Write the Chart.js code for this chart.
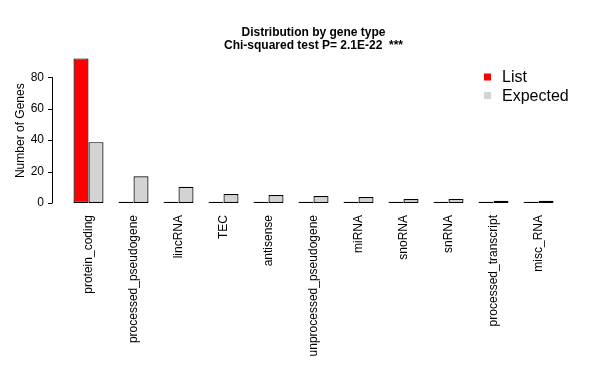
<!DOCTYPE html>
<html>
<head>
<meta charset="utf-8">
<script src="https://cdn.jsdelivr.net/npm/chart.js@4/dist/chart.umd.min.js"></script>
<style>
  body { margin: 0; background: #fff; }
</style>
</head>
<body>
<canvas id="geneChart" width="613" height="378"></canvas>
<script>
// gene types and counts
const geneTypes = ["protein_coding", "processed_pseudogene", "lincRNA", "TEC", "antisense",
    "unprocessed_pseudogene", "miRNA", "snoRNA", "snRNA", "processed_transcript", "misc_RNA"];
const listCounts = [92, 0, 0, 0, 0, 0, 0, 0, 0, 0, 0];
const expectedCounts = [38.7, 17, 10.3, 5.7, 5.1, 4.4, 3.8, 2.5, 2.5, 1.5, 1.5];
const yTicks = [0, 20, 40, 60, 80];
const titleLines = ["Distribution by gene type", "Chi-squared test P= 2.1E-22  ***"];

Chart.defaults.font.family = "'Liberation Sans', Arial, sans-serif";
Chart.defaults.color = "#000";

// R style y axis (line sits left of the plot area) + legend in the top right
const rStyle = {
    id: 'rStyle',
    afterDraw(chart) {
        const c = chart.ctx;
        const y = chart.scales.y;
        const ax = chart.chartArea.left - 14;
        c.save();
        c.strokeStyle = "#000";
        c.lineWidth = 1;
        c.beginPath();
        c.moveTo(ax + 0.5, y.getPixelForValue(yTicks[0]));
        c.lineTo(ax + 0.5, y.getPixelForValue(yTicks[yTicks.length - 1]));
        yTicks.forEach(t => {
            const py = Math.round(y.getPixelForValue(t)) + 0.5;
            c.moveTo(ax + 0.5, py);
            c.lineTo(ax - 4, py);
        });
        c.stroke();

        // legend
        c.font = "16px 'Liberation Sans', Arial, sans-serif";
        c.textBaseline = "middle";
        chart.data.datasets.forEach((ds, i) => {
            const ly = 77 + i * 18.5;
            c.fillStyle = ds.backgroundColor;
            c.fillRect(484, ly - 3.5, 7, 7);
            c.fillStyle = "#000";
            c.fillText(ds.label, 502, ly + 1);
        });
        c.restore();
    }
};

new Chart(document.getElementById("geneChart"), {
    type: 'bar',
    data: {
        labels: geneTypes,
        datasets: [
            { label: "List", data: listCounts, backgroundColor: "#ff0000" },
            { label: "Expected", data: expectedCounts, backgroundColor: "#d3d3d3" }
        ]
    },
    options: {
        responsive: false,
        animation: false,
        layout: { padding: { left: 0, right: 52, top: 0, bottom: 0 } },
        datasets: {
            bar: {
                borderColor: "#000",
                borderWidth: 1.2,
                borderSkipped: false,
                minBarLength: 1.2,
                categoryPercentage: 30 / 45,
                barPercentage: 1,
                clip: false
            }
        },
        plugins: {
            legend: { display: false },
            tooltip: { enabled: false },
            title: {
                display: true,
                fullSize: false,
                text: titleLines,
                font: { size: 12, weight: 'bold', lineHeight: 1.1 },
                padding: { top: 26, bottom: 6 }
            }
        },
        scales: {
            x: {
                grid: { display: false, drawTicks: false },
                border: { display: false },
                ticks: { minRotation: 90, maxRotation: 90, font: { size: 12 }, padding: 12, autoSkip: false },
                afterFit(s) { s.height = 175; }
            },
            y: {
                min: 0,
                max: 92,
                grid: { display: false, drawTicks: false },
                border: { display: false },
                ticks: { stepSize: 20, includeBounds: false, font: { size: 12 }, padding: 22 },
                title: { display: true, text: "Number of Genes", font: { size: 12 }, padding: { top: 13, bottom: 0 } },
                afterFit(s) { s.width = 66; }
            }
        }
    },
    plugins: [rStyle]
});
</script>
</body>
</html>
